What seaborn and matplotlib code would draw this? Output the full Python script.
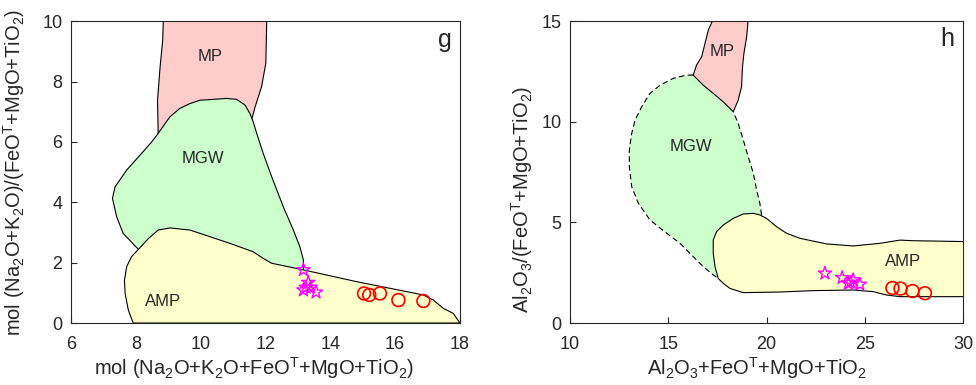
import numpy as np
import pandas as pd
import seaborn as sns
import matplotlib.pyplot as plt

# ---- panel g: field outlines (x = Na2O+K2O+FeOT+MgO+TiO2, y = ratio) ----
g_mp_x = [8.85, 12.04, 12.01, 11.88, 11.68, 11.57, 11.2, 8.69, 8.67, 8.75, 8.83]
g_mp_y = [10.05, 10.05, 8.60, 7.83, 7.16, 6.72, 6.2, 6.28, 7.38, 8.49, 9.37]

g_mgw_x = [9.67, 9.98, 10.80, 11.11, 11.37, 11.52, 11.62, 11.73, 11.93, 12.19, 12.55,
           12.86, 13.06, 13.17, 13.17, 13.0, 8.2, 8.08, 7.61, 7.41, 7.28, 7.36, 7.72,
           8.13, 8.49, 8.69, 9.05, 9.36]
g_mgw_y = [7.27, 7.38, 7.44, 7.41, 7.22, 6.94, 6.67, 6.28, 5.62, 4.85, 3.85,
           3.08, 2.53, 2.09, 1.78, 1.2, 1.2, 2.44, 2.97, 3.52, 4.13, 4.51, 5.07,
           5.56, 6.00, 6.28, 6.83, 7.11]

g_amp_x = [7.92, 7.77, 7.67, 7.65, 7.72, 7.87, 8.08, 8.39, 8.69, 9.05, 9.67, 9.98,
           10.90, 11.62, 11.93, 12.19, 13.17, 14.81, 16.87, 17.18, 17.48, 17.79, 18.0]
g_amp_y = [0.0, 0.43, 0.98, 1.42, 1.87, 2.20, 2.44, 2.80, 3.08, 3.15, 3.08, 2.97,
           2.64, 2.36, 2.14, 1.98, 1.76, 1.37, 0.93, 0.76, 0.49, 0.32, 0.0]

g_star_x = [13.17, 13.32, 13.17, 13.39, 13.56, 13.25]
g_star_y = [1.76, 1.34, 1.09, 1.18, 1.02, 1.18]
g_circ_x = [15.04, 15.20, 15.53, 16.10, 16.87]
g_circ_y = [0.98, 0.93, 0.98, 0.76, 0.73]

# ---- panel h: field outlines (x = Al2O3+FeOT+MgO+TiO2, y = ratio) ----
h_mp_x = [17.29, 19.07, 18.99, 18.85, 18.78, 18.73, 18.56, 18.31, 17.80, 17.29,
          16.78, 16.27, 16.44, 16.70, 16.87, 17.04]
h_mp_y = [15.1, 15.1, 14.22, 13.40, 12.73, 11.74, 11.08, 10.50, 10.99, 11.41,
          11.82, 12.32, 12.82, 13.23, 13.89, 14.56]

h_mgw_x = [16.27, 15.93, 15.26, 14.58, 14.07, 13.65, 13.31, 13.14, 13.02, 13.02,
           13.14, 13.48, 14.07, 14.92, 15.60, 16.27, 16.78, 17.29, 17.54,
           17.9, 19.0, 19.75, 19.66, 19.50, 19.33, 19.07, 18.82, 18.56, 18.31,
           17.80, 17.29, 16.78, 16.27]
h_mgw_y = [12.32, 12.32, 12.16, 11.82, 11.41, 10.75, 10.08, 9.42, 8.59, 7.77,
           6.77, 5.95, 5.12, 4.46, 3.96, 3.30, 2.80, 2.39, 2.22,
           2.3, 3.5, 5.37, 5.95, 6.61, 7.44, 8.26, 9.09, 9.92, 10.50,
           10.99, 11.41, 11.82, 12.32]

h_amp_x = [17.54, 17.80, 18.14, 18.82, 20.68, 22.38, 24.41, 25.43, 26.11, 26.79,
           30.5, 30.5, 27.46, 26.79, 25.77, 24.41, 23.06, 21.70, 21.02, 20.51,
           20.00, 19.66, 19.33, 18.82, 18.31, 17.80, 17.46, 17.29, 17.29, 17.38]
h_amp_y = [2.22, 1.97, 1.72, 1.51, 1.54, 1.61, 1.64, 1.56, 1.39, 1.31,
           1.31, 4.04, 4.09, 4.12, 3.96, 3.83, 3.93, 4.21, 4.46, 4.79,
           5.20, 5.37, 5.45, 5.42, 5.20, 4.87, 4.54, 4.13, 3.46, 2.80]

h_star_x = [22.97, 23.85, 24.16, 24.41, 24.75, 24.28]
h_star_y = [2.47, 2.25, 1.97, 2.14, 1.92, 2.02]
h_circ_x = [26.41, 26.82, 27.43, 28.06]
h_circ_y = [1.74, 1.71, 1.59, 1.48]

c_mp = '#FFCCCC'
c_mgw = '#CCFFCC'
c_amp = '#FFFFCC'

sns.set_style('ticks')
plt.rcParams['font.family'] = ['Liberation Sans', 'DejaVu Sans']
plt.rcParams['mathtext.fontset'] = 'custom'
plt.rcParams['mathtext.rm'] = 'Liberation Sans'
plt.rcParams['mathtext.it'] = 'Liberation Sans:italic'
plt.rcParams['axes.linewidth'] = 0.8

fig = plt.figure(figsize=(9.76, 3.85), dpi=100)
ax1 = fig.add_axes([0.0727, 0.161, 0.3986, 0.784])
ax2 = fig.add_axes([0.584, 0.161, 0.4027, 0.784])


def points(ax, sx, sy, cx, cy):
    stars = pd.DataFrame({'x': sx, 'y': sy})
    circs = pd.DataFrame({'x': cx, 'y': cy})
    sns.scatterplot(data=stars, x='x', y='y', marker='*', s=100, color='#FF00FF',
                    facecolor='none', edgecolor='#FF00FF', linewidth=1.0, ax=ax, zorder=5)
    sns.scatterplot(data=circs, x='x', y='y', marker='o', s=85, color='#FF0000',
                    facecolor='none', edgecolor='#FF0000', linewidth=1.2, ax=ax, zorder=5)


# panel g
ax1.fill(g_mp_x, g_mp_y, facecolor=c_mp, edgecolor='black', lw=0.8, zorder=1)
ax1.fill(g_mgw_x, g_mgw_y, facecolor=c_mgw, edgecolor='black', lw=0.8, zorder=2)
ax1.fill(g_amp_x, g_amp_y, facecolor=c_amp, edgecolor='black', lw=0.8, zorder=3)
points(ax1, g_star_x, g_star_y, g_circ_x, g_circ_y)
ax1.text(10.29, 8.82, 'MP', fontsize=12, ha='center', va='center', zorder=6)
ax1.text(10.08, 5.45, 'MGW', fontsize=12, ha='center', va='center', zorder=6)
ax1.text(8.83, 0.71, 'AMP', fontsize=12, ha='center', va='center', zorder=6)
ax1.text(17.54, 9.37, 'g', fontsize=18, ha='center', va='center', zorder=6)
ax1.set_xlim(6, 18)
ax1.set_ylim(0, 10)
ax1.set_xticks([6, 8, 10, 12, 14, 16, 18])
ax1.set_yticks([0, 2, 4, 6, 8, 10])
ax1.set_xlabel(r'mol (Na$_2$O+K$_2$O+FeO$^\mathrm{T}$+MgO+TiO$_2$)', fontsize=14.5)
ax1.set_ylabel(r'mol (Na$_2$O+K$_2$O)/(FeO$^\mathrm{T}$+MgO+TiO$_2$)', fontsize=14.5)
ax1.yaxis.set_label_coords(-0.113, 0.5)
ax1.xaxis.label.set_x(0.47)

# panel h
ax2.fill(h_mgw_x, h_mgw_y, facecolor=c_mgw, edgecolor='none', zorder=1)
ax2.plot(h_mgw_x[:19], h_mgw_y[:19], color='black', lw=0.8, ls=(0, (5, 3)), zorder=1.5)
ax2.plot(h_mgw_x[21:29], h_mgw_y[21:29], color='black', lw=0.8, ls=(0, (5, 3)), zorder=1.5)
ax2.fill(h_mp_x, h_mp_y, facecolor=c_mp, edgecolor='black', lw=0.8, zorder=2)
ax2.fill(h_amp_x, h_amp_y, facecolor=c_amp, edgecolor='black', lw=0.8, zorder=3)
points(ax2, h_star_x, h_star_y, h_circ_x, h_circ_y)
ax2.text(17.72, 13.48, 'MP', fontsize=12, ha='center', va='center', zorder=6)
ax2.text(16.14, 8.76, 'MGW', fontsize=12, ha='center', va='center', zorder=6)
ax2.text(26.96, 3.08, 'AMP', fontsize=12, ha='center', va='center', zorder=6)
ax2.text(29.18, 14.1, 'h', fontsize=18, ha='center', va='center', zorder=6)
ax2.set_xlim(10, 30)
ax2.set_ylim(0, 15)
ax2.set_xticks([10, 15, 20, 25, 30])
ax2.set_yticks([0, 5, 10, 15])
ax2.set_xlabel(r'Al$_2$O$_3$+FeO$^\mathrm{T}$+MgO+TiO$_2$', fontsize=14.5)
ax2.set_ylabel(r'Al$_2$O$_3$/(FeO$^\mathrm{T}$+MgO+TiO$_2$)', fontsize=14.5)
ax2.yaxis.set_label_coords(-0.09, 0.41)
ax2.xaxis.label.set_x(0.475)

for ax in (ax1, ax2):
    for sp in ax.spines.values():
        sp.set_visible(True)
        sp.set_linewidth(0.8)
    ax.tick_params(direction='in', length=4, width=0.8, labelsize=13, pad=6,
                   top=False, right=False)
    ax.tick_params(axis='x', pad=9)
    ax.xaxis.labelpad = 2

fig.savefig('out.png', dpi=100)
